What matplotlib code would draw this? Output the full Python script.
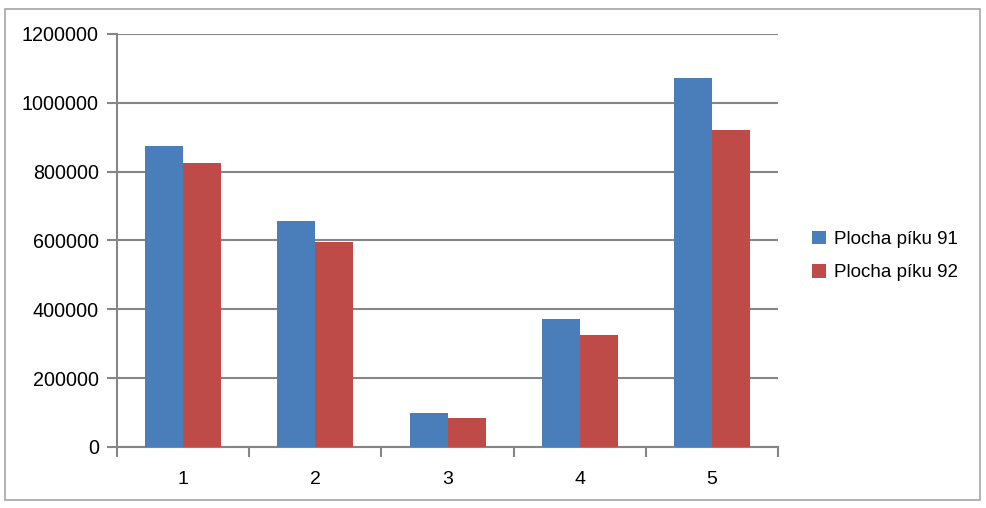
import matplotlib.pyplot as plt
import numpy as np
from matplotlib.patches import Rectangle

# data
categories = ["1", "2", "3", "4", "5"]
plocha_91 = [875000, 658000, 98000, 372000, 1073000]
plocha_92 = [826000, 597000, 83000, 325000, 922000]
series_names = ["Plocha píku 91", "Plocha píku 92"]
y_ticks = [0, 200000, 400000, 600000, 800000, 1000000, 1200000]

plt.rcParams["font.family"] = ["Liberation Sans", "DejaVu Sans"]
grey = "#868686"

fig = plt.figure(figsize=(9.86, 5.08), dpi=100)
ax = fig.add_axes([0.1187, 0.1201, 0.6704, 0.8130])

# outer chart border
fig.patches.append(Rectangle((5 / 986, 8 / 508), 975 / 986, 491 / 508,
                             transform=fig.transFigure, fill=False,
                             edgecolor="#a6a6a6", linewidth=1.2))

x = np.arange(1, len(categories) + 1)
w = 0.2875
ax.bar(x - w / 2, plocha_91, w, color="#4a7ebb", label=series_names[0], zorder=3)
ax.bar(x + w / 2, plocha_92, w, color="#be4b48", label=series_names[1], zorder=3)

ax.set_xlim(0.5, len(categories) + 0.5)
ax.set_ylim(0, 1200000)
ax.set_yticks(y_ticks)
ax.set_yticklabels([str(v) for v in y_ticks])
ax.yaxis.grid(True, color=grey, linewidth=1.5, zorder=0)

ax.set_xticks(x)
ax.set_xticklabels(categories)
ax.set_xticks(np.arange(0.5, len(categories) + 1), minor=True)
ax.tick_params(axis="x", which="major", length=0, pad=17, labelsize=14)
ax.tick_params(axis="x", which="minor", length=7, width=1.5, color=grey)
ax.tick_params(axis="y", length=7, width=1.5, color=grey, pad=6, labelsize=14.2)

for side in ["top", "right"]:
    ax.spines[side].set_visible(False)
for side in ["left", "bottom"]:
    ax.spines[side].set_color(grey)
    ax.spines[side].set_linewidth(1.5)

fig.legend(loc="center left", bbox_to_anchor=(804 / 986, 1 - 256 / 508),
           frameon=False, fontsize=13.5, handlelength=0.75, handleheight=0.75,
           handletextpad=0.45, labelspacing=0.85, borderaxespad=0)

fig.savefig("out.png", dpi=100)
